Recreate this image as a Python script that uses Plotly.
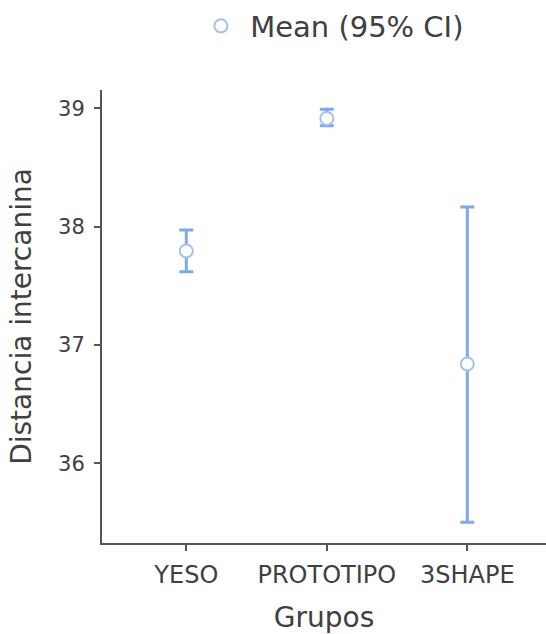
import plotly.graph_objects as go

grupos = ["YESO", "PROTOTIPO", "3SHAPE"]
media = [37.794, 38.915, 36.839]
ci_inf = [37.619, 38.853, 35.500]
ci_sup = [37.971, 38.992, 38.166]

err_plus = [u - m for u, m in zip(ci_sup, media)]
err_minus = [m - l for m, l in zip(media, ci_inf)]

FONT = "DejaVu Sans"
TXT = "#404040"
AX = "#555555"

fig = go.Figure()
fig.add_trace(go.Scatter(
    x=grupos, y=media, mode="markers", name="\u00a0Mean (95% CI)",
    marker=dict(symbol="circle", size=13, color="white",
                line=dict(color="#A3C1F2", width=2)),
    error_y=dict(type="data", symmetric=False, array=err_plus, arrayminus=err_minus,
                 color="#7EA8EC", thickness=3, width=7),
))

fig.update_layout(
    width=546, height=634,
    margin=dict(l=102, r=0, t=90, b=91, autoexpand=False),
    paper_bgcolor="white", plot_bgcolor="white",
    font=dict(family=FONT, color=TXT),
    showlegend=True,
    legend=dict(orientation="h", xref="container", yref="container",
                x=0.368, xanchor="left", y=0.959, yanchor="middle",
                font=dict(size=29, color=TXT, family=FONT), bgcolor="rgba(0,0,0,0)"),
    xaxis=dict(
        range=[-0.6, 2.56], showline=True, linecolor=AX, linewidth=2,
        ticks="outside", ticklen=6, tickwidth=2, tickcolor=AX,
        showgrid=False, zeroline=False, automargin=True,
        tickfont=dict(size=24, color=TXT), ticklabelstandoff=3,
        title=dict(text="Grupos", font=dict(size=28, color=TXT), standoff=21),
    ),
    yaxis=dict(
        range=[35.325, 39.155], showline=True, linecolor=AX, linewidth=2,
        ticks="outside", ticklen=6, tickwidth=2, tickcolor=AX,
        showgrid=False, zeroline=False, automargin=False,
        tickvals=[36, 37, 38, 39],
        tickfont=dict(size=21, color=TXT), ticklabelstandoff=5,
        title=dict(text="Distancia intercanina", font=dict(size=28, color=TXT), standoff=18),
    ),
)

fig.write_html("out.html", config={"displayModeBar": False},
               post_script="document.body.style.margin='0';")
